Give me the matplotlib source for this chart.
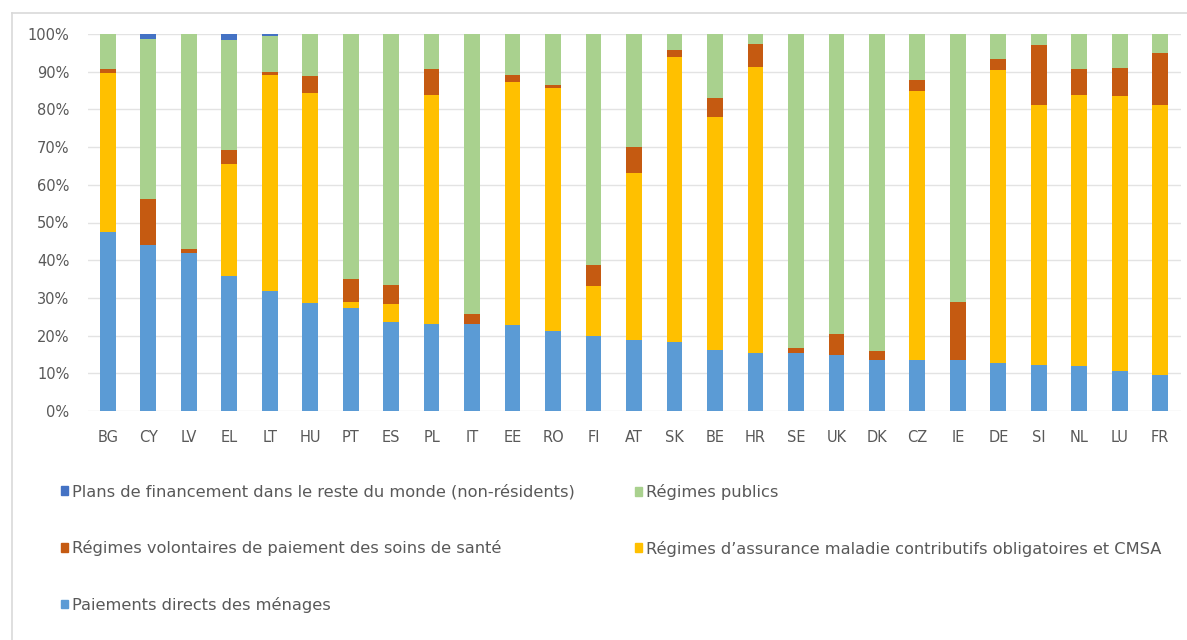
import numpy as np
import matplotlib.pyplot as plt
from matplotlib.lines import Line2D
from matplotlib.patches import Patch

countries = ["BG", "CY", "LV", "EL", "LT", "HU", "PT", "ES", "PL", "IT", "EE", "RO", "FI", "AT",
             "SK", "BE", "HR", "SE", "UK", "DK", "CZ", "IE", "DE", "SI", "NL", "LU", "FR"]

# shares of current health expenditure by financing scheme (%)
paiements_directs = [47.6, 43.9, 41.9, 35.8, 31.7, 28.6, 27.4, 23.5, 23.1, 23.1, 22.7, 21.2, 19.8, 18.8,
                     18.4, 16.3, 15.3, 15.3, 14.8, 13.5, 13.5, 13.5, 12.6, 12.3, 12.0, 10.5, 9.5]
assurance_obligatoire = [42.0, 0.0, 0.0, 29.7, 57.3, 55.7, 1.4, 4.9, 60.8, 0.0, 64.7, 64.6, 13.4, 44.3,
                         75.4, 61.6, 75.9, 0.0, 0.0, 0.0, 71.4, 0.0, 77.8, 68.8, 71.7, 73.0, 71.6]
regimes_volontaires = [1.1, 12.4, 1.2, 3.8, 1.0, 4.6, 6.2, 4.9, 6.8, 2.6, 1.6, 0.7, 5.5, 6.8,
                       1.9, 5.1, 6.1, 1.3, 5.7, 2.3, 3.0, 15.5, 3.0, 16.0, 7.0, 7.6, 13.9]
regimes_publics = [9.3, 42.4, 56.9, 29.2, 9.6, 11.1, 65.0, 66.7, 9.3, 74.3, 11.0, 13.5, 61.3, 30.1,
                   4.3, 17.0, 2.7, 83.4, 79.5, 84.2, 12.1, 71.0, 6.6, 2.9, 9.3, 8.9, 5.0]
reste_du_monde = [0.0, 1.3, 0.0, 1.5, 0.4, 0.0, 0.0, 0.0, 0.0, 0.0, 0.0, 0.0, 0.0, 0.0,
                  0.0, 0.0, 0.0, 0.0, 0.0, 0.0, 0.0, 0.0, 0.0, 0.0, 0.0, 0.0, 0.0]

series = [
    ("Paiements directs des ménages", paiements_directs, "#5B9BD5"),
    ("Régimes d’assurance maladie contributifs obligatoires et CMSA", assurance_obligatoire, "#FFC000"),
    ("Régimes volontaires de paiement des soins de santé", regimes_volontaires, "#C55A11"),
    ("Régimes publics", regimes_publics, "#A9D18E"),
    ("Plans de financement dans le reste du monde (non-résidents)", reste_du_monde, "#4472C4"),
]

text_color = "#595959"
plt.rcParams["font.family"] = ["DejaVu Sans"]

fig = plt.figure(figsize=(11.87, 6.4), dpi=100)
ax = fig.add_axes([87.5 / 1187, 1 - 411 / 640, (1180.5 - 87.5) / 1187, 377 / 640])

# light chart-area frame (left and top edges only)
frame_x, frame_y = 12 / 1187, 1 - 13 / 640
fig.lines.append(Line2D([frame_x, frame_x], [0, frame_y], transform=fig.transFigure,
                        color="#D9D9D9", linewidth=1.2))
fig.lines.append(Line2D([frame_x, 1], [frame_y, frame_y], transform=fig.transFigure,
                        color="#D9D9D9", linewidth=1.2))

x = np.arange(len(countries))
bottom = np.zeros(len(countries))
handles = {}
for label, values, color in series:
    values = np.array(values)
    ax.bar(x, values, 0.39, bottom=bottom, color=color, zorder=3)
    handles[label] = Patch(color=color)
    bottom += values

ax.set_xlim(-0.5, len(countries) - 0.5)
ax.set_ylim(0, 100)
ax.set_yticks(np.arange(0, 101, 10))
ax.set_yticklabels([f"{v}%" for v in range(0, 101, 10)])
ax.set_xticks(x)
ax.set_xticklabels(countries)
ax.tick_params(length=0, colors=text_color, labelsize=10.5)
ax.tick_params(axis="y", pad=13)
ax.tick_params(axis="x", pad=14)
ax.grid(axis="y", color="#E3E3E3", linewidth=1, zorder=0)
for side in ax.spines.values():
    side.set_visible(False)

def column_legend(labels, left):
    leg = fig.legend([handles[l] for l in labels], labels, loc="upper left",
                     bbox_to_anchor=(left / 1187, 1 - 484 / 640), frameon=False,
                     fontsize=11.7, labelcolor=text_color, handlelength=0.45, handleheight=0.45,
                     handletextpad=0.2, labelspacing=2.5, borderpad=0, borderaxespad=0)
    return leg

column_legend(["Plans de financement dans le reste du monde (non-résidents)",
               "Régimes volontaires de paiement des soins de santé",
               "Paiements directs des ménages"], 61)
column_legend(["Régimes publics",
               "Régimes d’assurance maladie contributifs obligatoires et CMSA"], 635)

fig.savefig("out.png", dpi=100)
